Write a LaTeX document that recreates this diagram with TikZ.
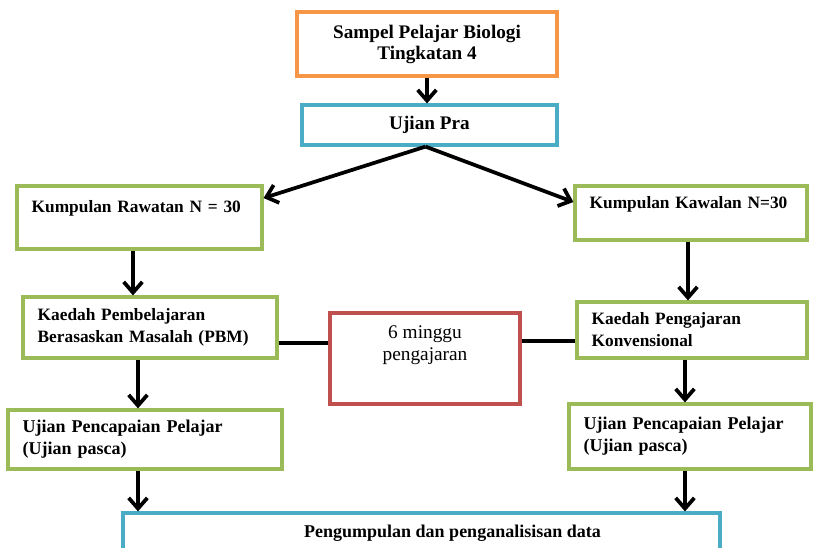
\documentclass[tikz,border=0pt]{standalone}
\usepackage{fontspec}
\setmainfont{Liberation Serif}
\usetikzlibrary{arrows.meta}
\definecolor{oren}{HTML}{F79646}
\definecolor{biru}{HTML}{4BACC6}
\definecolor{hijau}{HTML}{9BBB59}
\definecolor{merah}{HTML}{C0504D}

\begin{document}
\begin{tikzpicture}[x=0.75pt, y=-0.75pt,
    kotak/.style={draw, line width=2.4pt, fill=white, inner xsep=11pt, inner ysep=0pt},
    besar/.style={font=\fontsize{14.4}{15.75}\selectfont\bfseries, align=center},
    kecil/.style={draw=hijau, font=\fontsize{13}{16.5}\selectfont\bfseries, align=left},
    panah/.style={line width=2.8pt, -{Straight Barb[length=8pt, width=14pt]}},
    garis/.style={line width=2.8pt}]
                    \useasboundingbox (0,0) rectangle (815,547);

                    \node (sampel) [kotak, besar, draw=oren, minimum width=195pt, minimum height=48pt] at (427,44) {Sampel Pelajar Biologi\\Tingkatan 4};
                    \node (pra) [kotak, besar, draw=biru, minimum width=191.25pt, minimum height=30pt] at (429.5,125) {Ujian Pra};
                    \node (rawatan) [kotak, kecil, text width=161.75pt, minimum height=47.25pt] at (139.5,217.5) {Kumpulan Rawatan N = 30\\ ~};
                    \node (kawalan) [kotak, kecil, text width=152pt, minimum height=40.5pt] at (691,213) {Kumpulan Kawalan N=30\\ ~};
                    \node (pbm) [kotak, kecil, text width=168.5pt, minimum height=45.75pt] at (150,327.5) {Kaedah Pembelajaran\\Berasaskan Masalah (PBM)};
                    \node (minggu) [kotak, draw=merah, font=\fontsize{14.5}{16.5}\selectfont, align=center, minimum width=142.5pt, minimum height=68.25pt] at (425,358.5) {6 minggu\\pengajaran\\[6pt]~};
                    \node (konv) [kotak, kecil, text width=150.5pt, minimum height=42pt] at (692,330) {Kaedah Pengajaran\\Konvensional};
                    \node (ujiankiri) [kotak, kecil, font=\fontsize{13.5}{16.5}\selectfont\bfseries, text width=183.5pt, minimum height=44.25pt] at (145,439.5) {Ujian Pencapaian Pelajar\\(Ujian pasca)};
                    \node (ujiankanan) [kotak, kecil, font=\fontsize{13.5}{16.5}\selectfont\bfseries, text width=159.5pt, minimum height=48.75pt] at (690,436.5) {Ujian Pencapaian Pelajar\\(Ujian pasca)};
                    \node (data) [kotak, draw=biru, font=\fontsize{13.5}{16.5}\selectfont\bfseries, minimum width=447.75pt, minimum height=30pt] at (421.5,533) {\hspace*{46.5pt}Pengumpulan dan penganalisisan data};

                    \draw[panah] (sampel.south) -- (sampel.south |- pra.north);
                    \draw[panah] ([xshift=-3pt]pra.south) -- ([yshift=14.6pt]rawatan.east);
                    \draw[panah] ([xshift=-3pt]pra.south) -- ([yshift=8.25pt]kawalan.west);

                    \foreach \dari/\ke/\x in {rawatan/pbm/133, pbm/ujiankiri/138, ujiankiri/data/138, kawalan/konv/688, konv/ujiankanan/685, ujiankanan/data/685} {
                        \draw[panah] (\dari.south -| \x,0) -- (\ke.north -| \x,0);
                    }

                    \draw[garis] (pbm.east |- 0,343) -- (minggu.west |- 0,343);
                    \draw[garis] (minggu.east |- 0,341) -- (konv.west |- 0,341);
                \end{tikzpicture}
\end{document}
